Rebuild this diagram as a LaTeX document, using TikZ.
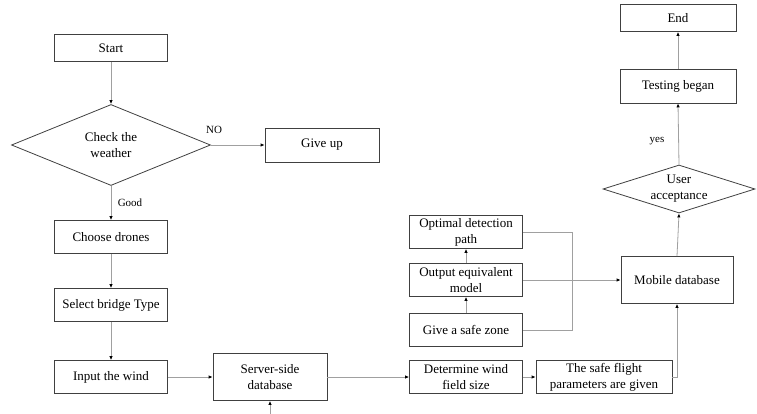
\documentclass[tikz,border=0pt]{standalone}
\usepackage{fontspec}
\setmainfont{Liberation Serif}
\usetikzlibrary{arrows.meta,shapes.geometric}

\definecolor{boxline}{HTML}{404040}
\definecolor{linkline}{HTML}{A0A0A0}

\begin{document}
\begin{tikzpicture}[x=1pt,y=-1pt,
        stepbox/.style={draw=boxline,thick,rectangle,align=center,
            minimum width=113pt,minimum height=33pt,inner sep=1pt,
            font=\fontsize{13}{16}\selectfont},
        choice/.style={draw=boxline,thick,diamond,align=center,inner sep=0pt,
            font=\fontsize{13}{16}\selectfont},
        link/.style={draw=linkline,thick,-{Latex[length=4pt,width=3.5pt,color=black]}},
        plainlink/.style={draw=linkline,thick},
        tag/.style={font=\fontsize{11}{13}\selectfont}]
    \useasboundingbox (0,0) rectangle (757,414);
    % left column
    \node (start) [stepbox,minimum height=27pt] at (111,48) {Start};
    \node (weather) [choice,shape aspect=2.4,minimum width=199pt,
        minimum height=81pt] at (111,145) {Check the\\weather};
    \node (giveup) [stepbox,minimum width=114pt,minimum height=34pt] at (322,145) {Give up};
    \node (drones) [stepbox] at (111,237) {Choose drones};
    \node (bridge) [stepbox] at (111,305) {Select bridge Type};
    \node (wind) [stepbox] at (111,377) {Input the wind};
    % bottom row
    \node (server) [stepbox,minimum width=114pt,minimum height=47pt] at (270,377)
        {Server-side\\database};
    \coordinate (serverin) at (270,414);
    \node (field) [stepbox] at (466,377) {Determine wind\\field size};
    \node (flight) [stepbox,minimum width=136pt] at (604,377)
        {The safe flight\\parameters are given};
    % middle stack
    \node (zone) [stepbox] at (466,330) {Give a safe zone};
    \node (model) [stepbox] at (466,280) {Output equivalent\\model};
    \node (path) [stepbox] at (466,232) {Optimal detection\\path};
    % right column
    \node (mobile) [stepbox,minimum width=112pt,minimum height=47pt] at (677,280)
        {Mobile database};
    \node (accept) [choice,shape aspect=3,minimum width=152pt,
        minimum height=48pt] at (679,189) {User\\acceptance};
    \node (testing) [stepbox,minimum width=116pt,minimum height=34pt] at (678,86)
        {Testing began};
    \node (finish) [stepbox,minimum width=116pt,minimum height=27pt] at (678,18) {End};

    \draw[link] (start) -- (weather);
    \draw[link] (weather.east) -- (giveup.west);
    \node (no) [tag] at (214,130) {NO};
    \draw[link] (weather.south) -- (drones);
    \node (good) [tag] at (130,203) {Good};
    \draw[link] (drones) -- (bridge);
    \draw[link] (bridge) -- (wind);
    \draw[link] (wind) -- (server);
    \draw[link] (serverin) -- (server);
    \draw[link] (server) -- (field);
    \draw[link] (field) -- (flight);
    \draw[link] (flight.east) -| (mobile.south);
    \draw[link] (zone) -- (model);
    \draw[link] (model) -- (path);
    \draw[plainlink] (path.east) -- ++(49,0) |- (zone.east);
    \draw[link] (model.east) -- (mobile.west);
    \draw[link] (mobile.north) -- (accept.south);
    \draw[link] (accept.north) -- (testing.south);
    \node (yes) [tag] at (657,141) {yes};
    \draw[link] (testing) -- (finish);
\end{tikzpicture}
\end{document}
